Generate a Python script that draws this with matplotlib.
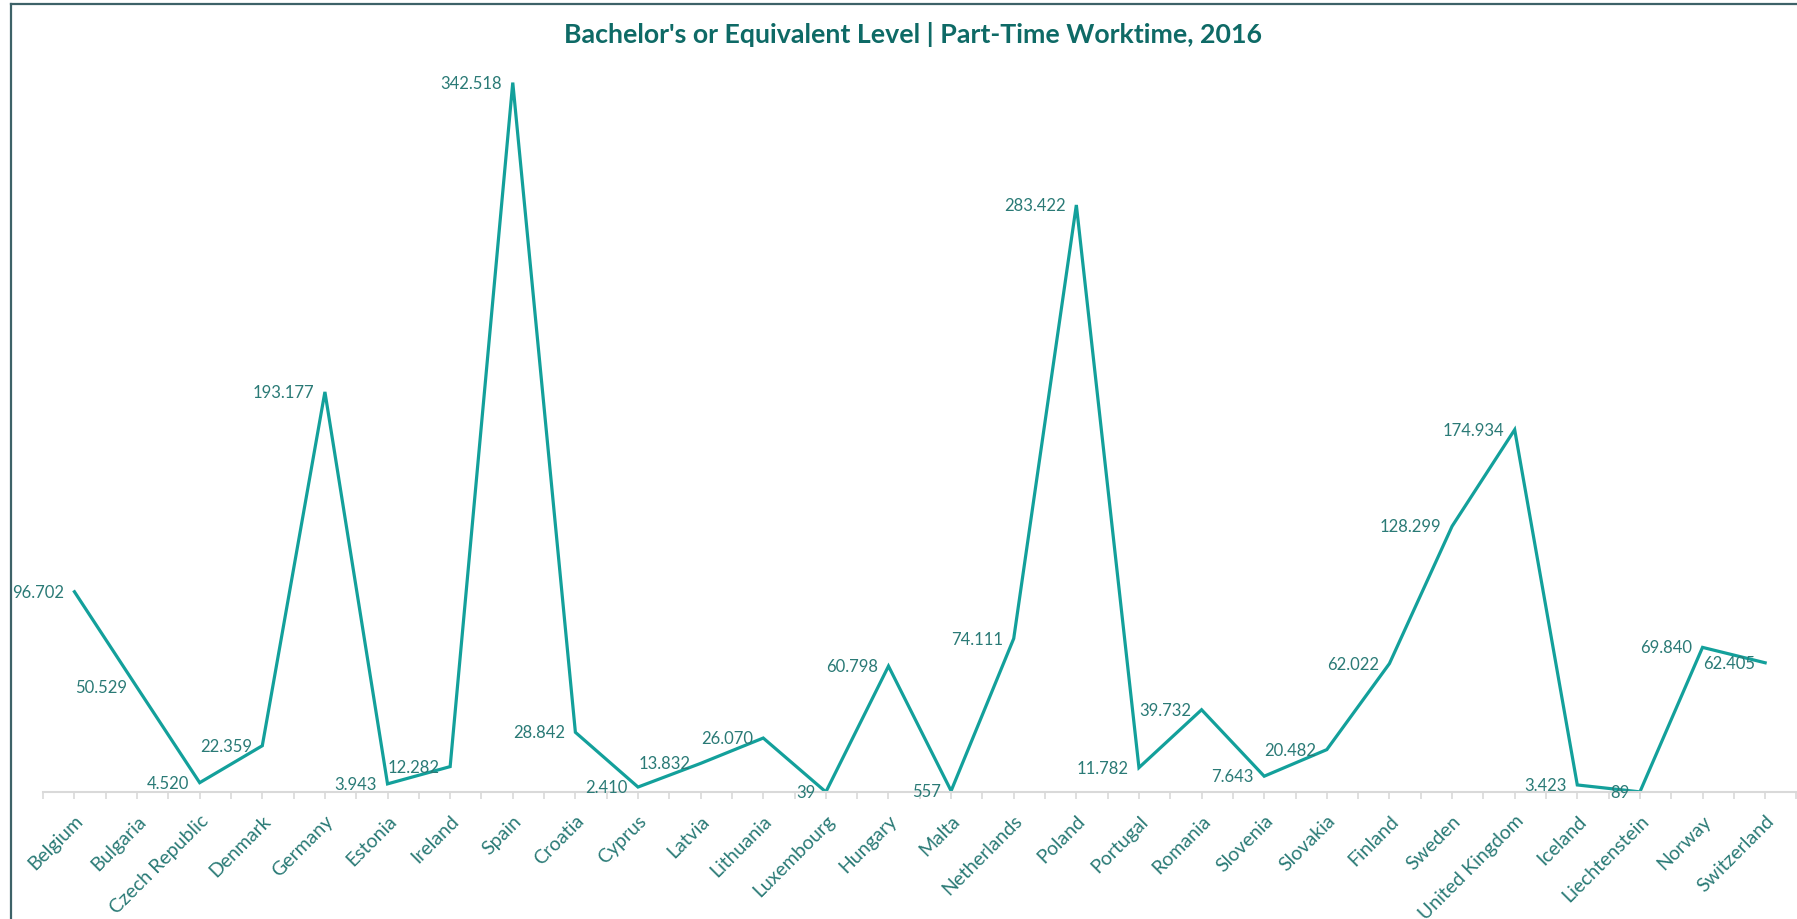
import matplotlib.pyplot as plt
from matplotlib.ticker import FixedLocator, NullFormatter

countries = ["Belgium", "Bulgaria", "Czech Republic", "Denmark", "Germany", "Estonia",
             "Ireland", "Spain", "Croatia", "Cyprus", "Latvia", "Lithuania", "Luxembourg",
             "Hungary", "Malta", "Netherlands", "Poland", "Portugal", "Romania", "Slovenia",
             "Slovakia", "Finland", "Sweden", "United Kingdom", "Iceland", "Liechtenstein",
             "Norway", "Switzerland"]
values = [96702, 50529, 4520, 22359, 193177, 3943, 12282, 342518, 28842, 2410, 13832,
          26070, 39, 60798, 557, 74111, 283422, 11782, 39732, 7643, 20482, 62022, 128299,
          174934, 3423, 89, 69840, 62405]

LINE = "#13a09b"
TEXT = "#2a7a76"
TITLE = "#0e6a66"
AXIS = "#d9d9d9"

plt.rcParams['font.family'] = ['Lato', 'DejaVu Sans']


def fmt(v):
    return f"{v:,}".replace(",", ".")


fig = plt.figure(figsize=(17.97, 9.2), dpi=100)
ax = fig.add_axes([0.024, 0.138, 0.9757, 0.788])

x = list(range(len(countries)))
ax.plot(x, values, color=LINE, lw=2.3, solid_joinstyle='miter')

for xi, v in zip(x, values):
    ax.annotate(fmt(v), (xi, v), xytext=(-7.5, 0), textcoords='offset points',
                ha='right', va='center', fontsize=12, color=TEXT)

ax.set_xlim(-0.5, len(countries) - 0.5)
ax.set_ylim(0, 350000)

for s in ['top', 'right', 'left']:
    ax.spines[s].set_visible(False)
ax.spines['bottom'].set_color(AXIS)
ax.spines['bottom'].set_linewidth(1.5)
ax.set_yticks([])

ax.set_xticks(x)
ax.set_xticklabels(countries, rotation=45, ha='right', rotation_mode='anchor',
                   fontsize=14, color=TEXT)
ax.xaxis.set_minor_locator(FixedLocator([i - 0.5 for i in range(len(countries) + 1)]))
ax.xaxis.set_minor_formatter(NullFormatter())
ax.tick_params(axis='x', which='both', length=5, width=1.2, color=AXIS, direction='out')
ax.tick_params(axis='x', which='major', pad=9)

fig.text(0.508, 0.963, "Bachelor's or Equivalent Level | Part-Time Worktime, 2016",
         ha='center', va='center', fontsize=19.3, fontweight='bold', color=TITLE)

# frame lines of the chart box (top and left)
fig.add_artist(plt.Line2D([11 / 1797, 1], [1 - 5 / 920, 1 - 5 / 920], color="#3d6268", lw=1.6))
fig.add_artist(plt.Line2D([11 / 1797, 11 / 1797], [0, 1 - 5 / 920], color="#3d6268", lw=1.6))

fig.savefig("out.png", dpi=100, facecolor='white')
